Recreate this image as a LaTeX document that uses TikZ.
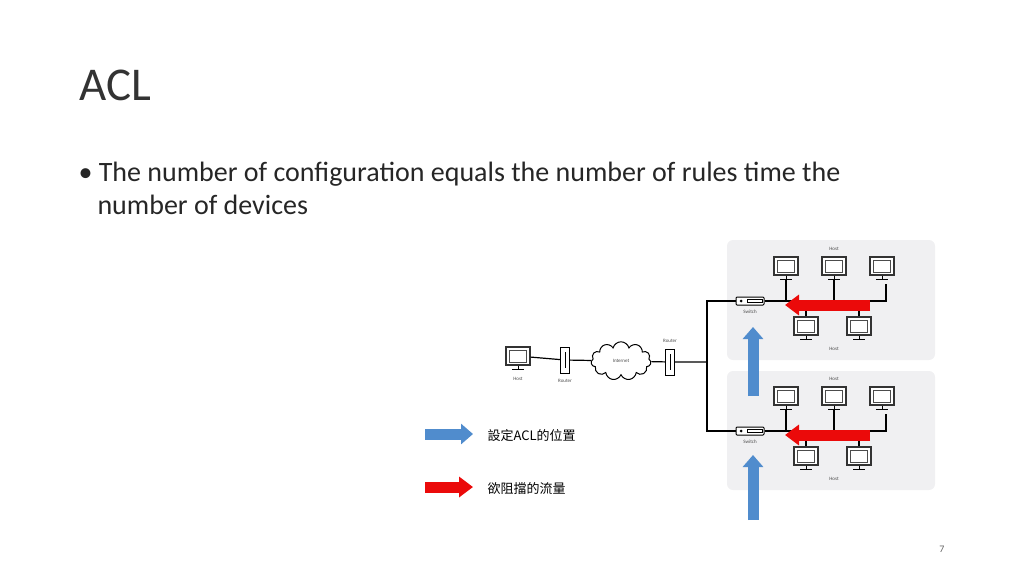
\documentclass[tikz,border=0pt]{standalone}
\usepackage{fontspec}
\setmainfont{Carlito}
\newfontfamily\cjk{Noto Sans CJK TC}
\usetikzlibrary{positioning}
\usetikzlibrary{arrows.meta}
\usetikzlibrary{shapes.symbols}
\usetikzlibrary{backgrounds}

\definecolor{panel}{RGB}{240,240,242}
\definecolor{flowred}{RGB}{235,10,10}
\definecolor{aclblue}{RGB}{80,140,205}
\tikzset{
  monitor/.style={draw=black!80, line width=1.3pt, fill=white, minimum width=24pt, minimum height=18pt, inner sep=0pt},
  screen/.style={draw=black!70, line width=0.7pt, minimum width=17pt, minimum height=12pt, inner sep=0pt},
  router/.style={draw, line width=1pt, fill=white, minimum width=9pt, minimum height=26pt, inner sep=0pt},
  switchbox/.style={draw, line width=1pt, fill=white, rounded corners=1pt, minimum width=28pt, minimum height=8pt, inner sep=0pt},
  tag/.style={font=\fontsize{5}{6}\selectfont, text=black!70},
  wire/.style={line width=1.2pt},
  flow/.style={line width=11pt, flowred, -{Triangle[length=14pt, width=20pt]}},
  acl/.style={line width=11pt, aclblue, -{Triangle[length=12pt, width=20pt]}}
}
\newcommand\stand[1]{\node[screen] at (#1) {};\draw[line width=1pt] (#1.south) -- ++(0,4) ++(-6,0) -- ++(12,0);}

\begin{document}
\begin{tikzpicture}[x=1pt, y=-1pt]
	\useasboundingbox (0,0) rectangle (1024,576);
	\node[anchor=base west, font=\fontsize{47}{52}\selectfont, text=black!80] (title) at (76,100) {ACL};
	\node[anchor=base west, font=\fontsize{28}{33}\selectfont, text=black!85] (bullet) at (75,181) {\textbullet\ The number of configuration equals the number of rules time the};
	\node[anchor=base west, font=\fontsize{28}{33}\selectfont, text=black!85] (bullet2) at (94,214) {number of devices};
	\node[font=\fontsize{10}{12}\selectfont, text=black!60] (page) at (942,549) {7};

	% panels
	\begin{scope}[on background layer]
		\fill[panel, rounded corners=6pt] (727,240) rectangle (935,360);
		\fill[panel, rounded corners=6pt] (727,371) rectangle (935,490);
	\end{scope}

	% left side
	\node[monitor] (host) at (518,356) {};
	\stand{host}
	\node[tag, below=8pt of host] {Host};
	\node[router] (r1) at (565,360) {};
	\draw[line width=0.8pt] (565,352) -- (565,368);
	\node[tag, below=2pt of r1] {Router};
	\node[cloud, draw, line width=1pt, fill=white, cloud puffs=11, minimum width=60pt, minimum height=36pt, tag] (net) at (621,361) {Internet};
	\node[router] (r2) at (670,362) {};
	\draw[line width=0.8pt] (670,354) -- (670,370);
	\node[tag, above=2pt of r2] {Router};
	\coordinate (hub) at (707,362);
	\draw[wire] (host) -- (r1) -- (net) -- (r2) -- (hub);

	% two switched segments
	\foreach \dy/\s in {0/a,130/b}{
		\begin{scope}[shift={(0,\dy)}]
			\node[switchbox] (sw\s) at (750,301) {};
			\fill (741,301) circle (1.5pt);
			\draw[line width=0.8pt] (747,299.5) rectangle (762,302.5);
			\node[tag, below=1pt of sw\s] {Switch};
			\draw[wire] (hub) |- (sw\s.west);
			\node[monitor] (h\s1) at (786,266) {};
			\node[monitor] (h\s2) at (834,266) {};
			\node[monitor] (h\s3) at (882,266) {};
			\node[tag] at (834,249) {Host};
			\node[monitor] (h\s4) at (806,326) {};
			\node[monitor] (h\s5) at (859,326) {};
			\node[tag] at (834,349) {Host};
			\foreach \m in {1,...,5}{\stand{h\s\m}}
			\coordinate (bus\s) at (886,301);
			\draw[wire] (sw\s.east) -- (bus\s) -- ++(0,-17);
			\draw[wire] (h\s1.south) ++(0,4) -- (786,301);
			\draw[wire] (h\s2.south) ++(0,4) -- (834,301);
			\draw[wire] (806,301) -- (h\s4.north);
			\draw[wire] (859,301) -- (h\s5.north);
			\draw[flow] (870,305) -- (785,305);
		\end{scope}
	}
	\draw[acl] (753,396) -- (753,327);
	\draw[acl] (753,520) -- (753,455);

	% legend
	\coordinate (ka) at (425,434);
	\draw[acl] (ka) -- ++(48,0) coordinate (kb);
	\node[anchor=west, font=\cjk\fontsize{13}{15}\selectfont] (aclkey) at (484,436) {設定ACL的位置};
	\coordinate (kc) at (425,487);
	\draw[flow] (kc) -- ++(48,0) coordinate (kd);
	\node[anchor=west, font=\cjk\fontsize{13}{15}\selectfont] (flowkey) at (484,489) {欲阻擋的流量};
\end{tikzpicture}
\end{document}
